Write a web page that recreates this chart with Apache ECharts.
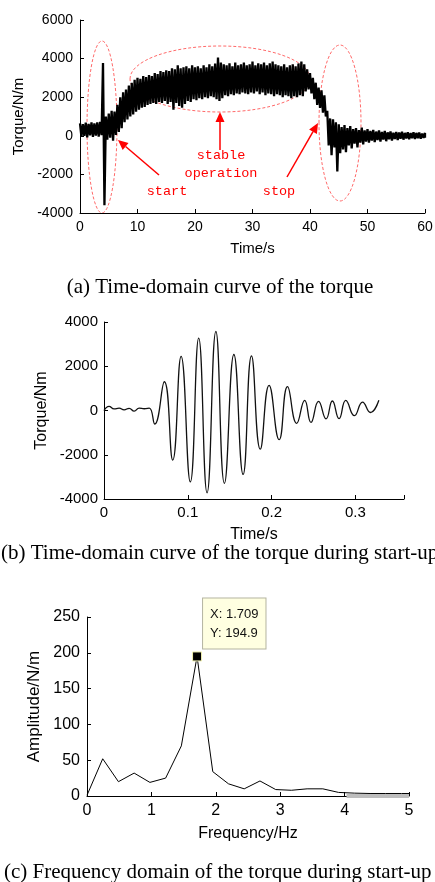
<!DOCTYPE html>
<html><head><meta charset="utf-8">
<script src="https://cdn.jsdelivr.net/npm/echarts@6/dist/echarts.min.js"></script>
<style>html,body{margin:0;padding:0;background:#fff}#c{width:435px;height:882px}</style>
</head><body><div id="c"></div>
<script>
// ---- (a) torque over 60 s: upper / lower envelope read every 0.5 s ----
const timeStepA = 0.5;
const torqueHiA = [650,600,680,620,700,640,690,720,3770,1000,1150,1300,1250,1600,2000,2250,2400,2600,2750,2900,
  3000,2950,3100,3050,3150,3100,3250,3200,3350,3300,3400,3350,3500,3450,3650,3500,3550,3600,3500,3650,
  3550,3600,3500,3650,3550,3700,3600,3750,4050,3800,3700,3650,3750,3600,3800,3650,3700,3800,3650,3700,
  3850,3650,3750,3700,3800,3650,3750,3850,3700,3650,3600,3700,3550,3650,3700,3600,3750,3850,3700,3450,
  3250,3000,2750,2500,2350,2100,1300,900,850,700,600,450,550,400,500,350,400,300,420,280,
  350,250,300,220,280,200,250,180,230,160,200,170,210,150,190,140,180,150,170,120,150];
const torqueLoA = [-50,0,-80,20,-60,10,-40,30,-3600,-200,-100,-250,50,200,400,700,850,1000,1100,1250,
  1350,1450,1500,1600,1650,1700,1650,1750,1700,1800,1650,1750,1350,1700,1550,1450,1650,1800,1750,1900,
  1850,1950,1900,2000,1950,2050,2000,1900,1800,1950,2100,2050,2150,2100,2200,2150,2250,2200,2150,2250,
  2200,2300,2150,2250,2100,2200,2150,2050,2150,2100,2000,2100,2050,1950,2050,2000,2100,2050,2300,2400,
  2200,1900,1600,1450,1200,1000,-500,-1000,-600,-1850,-900,-700,-850,-500,-650,-400,-600,-350,-450,-300,
  -350,-250,-330,-220,-300,-200,-280,-180,-250,-170,-220,-150,-200,-140,-180,-130,-170,-120,-150,-110,-100];

// ---- (b) start-up torque ----
const timeB = [0,0.006,0.012,0.018,0.024,0.030,0.036,0.042,0.048,0.054,0.0605,0.072,0.082,0.092,0.103,0.113,0.123,0.1335,
  0.1437,0.155,0.166,0.176,0.1865,0.197,0.209,0.219,0.230,0.2395,0.247,0.256,0.265,0.2725,0.2805,0.2885,0.2988,0.3085,0.318,0.328];
const torqueB = [0,190,70,110,30,100,-30,110,80,110,-610,1300,-2240,2450,-3230,3270,-3720,3570,
  -3290,2530,-2890,2470,-1750,1140,-1320,1080,-580,460,-540,410,-380,430,-370,460,-235,380,-90,465];

// ---- (c) spectrum ----
const freqC = [0,0.244,0.488,0.732,0.977,1.221,1.465,1.709,1.953,2.197,2.441,2.686,2.930,3.174,3.418,3.662,3.906,4.150,4.395,4.639,4.883,5];
const ampC  = [1,52,20,32,19,25,70,194.9,34,17,10,21,9,8,10,10,5,4,3.5,3.5,3.5,3.5];
const bandFreqC = [4.03,5];
const bandAmpC = [0,0];
const tipX = 1.709, tipY = 194.9;

const seriesA = [];
torqueHiA.forEach((v,i)=>{
  const t = i*timeStepA;
  seriesA.push([t, v]);
  seriesA.push([Math.min(60, t + timeStepA/2), torqueLoA[i]]);
});
const seriesB = timeB.map((t,i)=>[t, torqueB[i]]);
const seriesC = freqC.map((f,i)=>[f, ampC[i]]);
const seriesBand = bandFreqC.map((f,i)=>[f, bandAmpC[i]]);

const SANS = '"Liberation Sans", Arial, sans-serif';
const SERIF = '"Liberation Serif", "Times New Roman", serif';
const MONO = '"Liberation Mono", "Courier New", monospace';

const plainFmt = v => String(+(+v).toFixed(3));
const tenthFmt = v => (Math.abs(v*10 - Math.round(v*10)) < 1e-6 ? String(+(+v).toFixed(1)) : '');

function xAx(grid, min, max, interval, name, fs, nfs, gap, margin, fmt){
  return {
    type:'value', gridIndex:grid, min, max, interval, name, nameLocation:'middle', nameGap:gap,
    nameMoveOverlap:false,
    nameTextStyle:{fontFamily:SANS, fontSize:nfs, color:'#000'},
    axisLine:{show:true, onZero:false, lineStyle:{color:'#000', width:1}},
    axisTick:{show:true, inside:true, length:4, lineStyle:{color:'#000'}},
    axisLabel:{fontFamily:SANS, fontSize:fs, color:'#000', margin, formatter:fmt||plainFmt},
    splitLine:{show:false}
  };
}
function yAx(grid, min, max, interval, name, fs, nfs, gap, margin){
  return {
    type:'value', gridIndex:grid, min, max, interval, name, nameLocation:'middle', nameGap:gap,
    nameMoveOverlap:false,
    nameTextStyle:{fontFamily:SANS, fontSize:nfs, color:'#000'},
    axisLine:{show:true, onZero:false, lineStyle:{color:'#000', width:1}},
    axisTick:{show:true, inside:true, length:4, lineStyle:{color:'#000'}},
    axisLabel:{fontFamily:SANS, fontSize:fs, color:'#000', margin, formatter:plainFmt},
    splitLine:{show:false}
  };
}

function arrow(x1,y1,x2,y2){
  const L=10, W=4.5;
  const dx=x2-x1, dy=y2-y1, d=Math.hypot(dx,dy), ux=dx/d, uy=dy/d;
  const bx=x2-ux*L, by=y2-uy*L;
  return [
    {type:'line', shape:{x1,y1,x2:bx,y2:by}, style:{stroke:'#ff0000', lineWidth:1.5}},
    {type:'polygon', shape:{points:[[x2,y2],[bx-uy*W,by+ux*W],[bx+uy*W,by-ux*W]]}, style:{fill:'#ff0000'}}
  ];
}
function ell(cx,cy,rx,ry){
  return {type:'ellipse', shape:{cx,cy,rx,ry}, style:{fill:'none', stroke:'#ff6a6a', lineWidth:1, lineDash:[3,2]}};
}
function txt(x,y,text,font,size,color,align){
  return {type:'text', x, y, style:{text, fontFamily:font, fontSize:size, fill:color, align:align||'center', verticalAlign:'middle'}};
}

const graphics = [
  ell(102,127,15,86), ell(220,79,90,33), ell(340,123,21,78),
  ...arrow(159,175,118,140), ...arrow(220,150,220,112), ...arrow(287,177,318,123),
  txt(221,155,'stable',MONO,13.5,'#ff0000'),
  txt(221,173,'operation',MONO,13.5,'#ff0000'),
  txt(167,191,'start',MONO,13.5,'#ff0000'),
  txt(279,191,'stop',MONO,13.5,'#ff0000'),
  txt(220,287,'(a) Time-domain curve of the torque',SERIF,21,'#000'),
  txt(1,553,'(b) Time-domain curve of the torque during start-up',SERIF,21,'#000','left'),
  txt(4,872,'(c) Frequency domain of the torque during start-up',SERIF,21,'#000','left')
];

const chart = echarts.init(document.getElementById('c'), null, {renderer:'canvas'});
chart.setOption({
  animation:false,
  backgroundColor:'#fff',
  grid:[
    {left:80, top:20, width:345, height:193, outerBoundsMode:'none'},
    {left:104, top:322, width:300, height:177, outerBoundsMode:'none'},
    {left:87, top:617, width:322, height:179, outerBoundsMode:'none'}
  ],
  xAxis:[
    xAx(0,0,60,10,'Time/s',14,15,28,7),
    xAx(1,0,0.358,0.1,'Time/s',15,16,28,6,tenthFmt),
    xAx(2,0,5,1,'Frequency/Hz',16,16,30,7)
  ],
  yAxis:[
    yAx(0,-4000,6000,2000,'Torque/N/m',14,15,54,7),
    yAx(1,-4000,4000,2000,'Torque/Nm',15,16,54,6),
    yAx(2,0,250,50,'Amplitude/N/m',16,17,44,7)
  ],
  series:[
    {type:'line', xAxisIndex:0, yAxisIndex:0, data:seriesA, showSymbol:false, symbol:'none',
     lineStyle:{color:'#000', width:2.3, join:'bevel'}, clip:true},
    {type:'line', xAxisIndex:1, yAxisIndex:1, data:seriesB, showSymbol:false, symbol:'none', smooth:0.5,
     lineStyle:{color:'#111', width:1.3}},
    {type:'line', xAxisIndex:2, yAxisIndex:2, data:seriesBand, showSymbol:false, symbol:'none', z:3,
     lineStyle:{color:'#bdbdbd', width:4}},
    {type:'line', xAxisIndex:2, yAxisIndex:2, data:seriesC, showSymbol:false, symbol:'none', z:4,
     lineStyle:{color:'#000', width:1},
     markPoint:{
       symbol:'rect', symbolSize:9,
       itemStyle:{color:'#000', borderColor:'#f0f0b0', borderWidth:1},
       data:[{coord:[tipX, tipY]}],
       label:{show:true, position:[11,-53], formatter:'X: '+tipX+'\nY: '+tipY,
         fontFamily:SANS, fontSize:13, color:'#111', lineHeight:19, align:'left',
         backgroundColor:'#ffffe1', borderColor:'#b4b4a0', borderWidth:1, padding:[6,7,6,7]}
     }}
  ],
  graphic:graphics
});
</script></body></html>
